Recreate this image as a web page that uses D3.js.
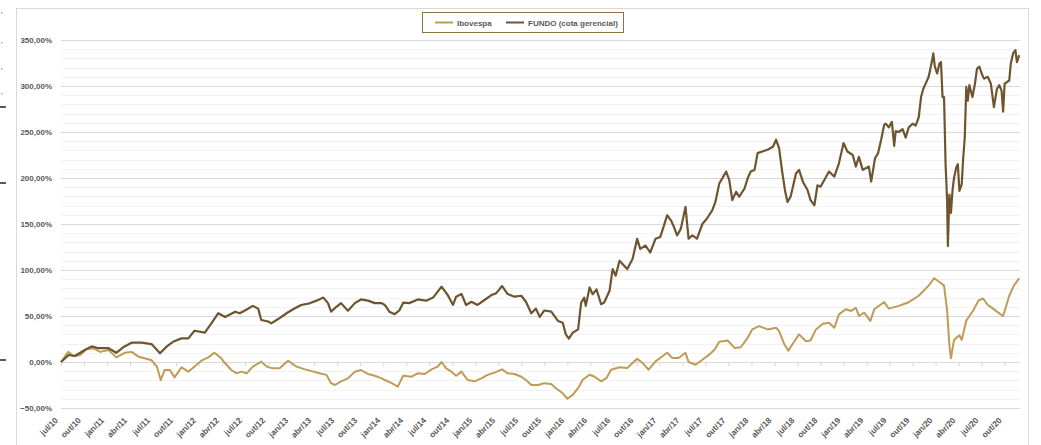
<!DOCTYPE html>
<html>
<head>
<meta charset="utf-8">
<script src="https://cdn.jsdelivr.net/npm/d3@7"></script>
<style>
body { margin: 0; background: #fff; }
</style>
</head>
<body>
<div id="caja"></div>
<script>
// meses desde jul/10 , rentabilidade acumulada (%)
var ibovespa = [
	[0,0],[0.95,11],[1.6,6.5],[2.5,7.6],[3.3,13.8],[4.2,15],[5.1,11],[6.2,13],[7.2,5],[8.3,10],
	[9.2,11],[10.1,5.8],[10.9,4],[11.8,2],[12.5,-5],[13,-19.6],[13.5,-8.7],[14.2,-8.7],[14.8,-16.7],[15.7,-5.8],
	[16.6,-10.5],[17.4,-5],[18.3,1.4],[19.2,5],[20,10],[20.9,4],[21.4,-1.4],[22.2,-8.7],[22.9,-12.3],[23.5,-10.5],
	[24.2,-12.3],[25,-5],[26.1,0.4],[26.8,-5],[27.6,-6.9],[28.5,-6.9],[29.6,1.4],[30.7,-5],[31.8,-8],[32.9,-10.5],
	[33.7,-12.3],[34.6,-14],[35.2,-23],[35.7,-25],[36.5,-21],[37.4,-17.8],[38.3,-10.5],[39.1,-8.7],[40,-13],[40.9,-15],
	[41.8,-17.8],[42.2,-19.6],[43,-22.5],[43.9,-26.8],[44.6,-15],[45.7,-16],[46.5,-12.3],[47.4,-13],[48.3,-8],[49.1,-5],
	[49.6,0],[50.2,-6.9],[50.9,-10.5],[51.5,-15],[52.2,-10.5],[53,-19.6],[53.9,-21],[54.8,-17.8],[55.6,-14],[56.5,-11.6],
	[57.5,-8],[58.2,-12.3],[59.1,-13],[60,-16],[60.6,-19.6],[61.3,-25],[62.2,-25],[63,-23],[63.9,-24],[64.5,-28.5],
	[65.4,-34],[66,-40],[66.7,-35.8],[67.4,-28.5],[68,-19.3],[68.9,-13.9],[69.5,-15.7],[70.4,-21],[71.1,-17.5],[71.7,-8.4],
	[72.8,-5.8],[73.8,-6.6],[75.1,3.6],[75.8,-1],[76.6,-8.4],[77.5,0.7],[78.4,6.2],[79,10],[79.7,4.4],[80.5,4.4],
	[81.4,10],[81.8,0],[82.7,-3],[83.6,2.5],[84.5,8],[85.2,13.5],[85.8,22],[86.9,23.4],[87.8,15.3],[88.6,16],
	[89.5,26.3],[90.1,35.4],[91,39],[92.1,35.4],[93.2,37.2],[93.6,33.6],[94.3,19],[94.8,12.4],[95.6,22.6],[96.2,30],
	[97.1,22.6],[97.7,23.4],[98.4,35.4],[99.3,41.6],[100.1,42.7],[100.8,37.2],[101.4,51.8],[102.3,57.3],[103,55.5],[103.6,59],
	[104,50],[104.7,53.6],[105.5,44.5],[106,57.3],[106.9,62.8],[107.3,65],[107.9,58],[109.2,61],[110.5,65],[111.8,72],
	[113.1,83],[113.8,91],[114.5,87],[115.1,83],[115.5,56],[115.8,18],[116,4],[116.4,24],[117.1,29],[117.4,24],
	[118,45],[118.9,56],[119.6,67],[120.2,69],[120.8,62],[121.5,58],[122.1,54],[122.8,50],[123.6,72],[124.2,83],
	[124.9,91]
];

var fundo = [
	[0,0],[1,7.6],[1.8,6.5],[3.1,13],[4,17],[4.9,15],[6.2,15],[7.2,10],[8.1,16],[9.2,21],
	[10.5,21],[11.8,19.5],[12.9,9.4],[13.8,17],[14.6,22],[15.7,25.7],[16.6,25.7],[17.4,34],[18.75,32],[19.6,42],
	[20.5,53],[21.4,49],[22.7,54.7],[23.3,53],[24.2,57],[25,61],[25.7,58],[26.1,45.7],[27,44],[27.4,42],
	[28.3,46.7],[29.4,53],[30.2,57],[31.3,62],[32.4,63.8],[33.3,66.7],[34.2,70],[34.8,64],[35.2,54.7],[35.9,60],
	[36.5,64],[37.4,55.8],[38.3,64],[39.1,68],[40,66.7],[40.9,64],[41.8,64],[42.2,62],[42.8,54.7],[43.5,52],
	[44.1,56],[44.6,64.5],[45.4,64],[46.5,68],[47.6,66.7],[48.5,70],[49.6,81.9],[50.4,72.8],[51.1,62],[51.5,71],
	[52.2,74],[52.8,62],[53.5,65.5],[54.3,62],[55.2,67.4],[56.1,72.8],[56.7,74.6],[57.5,82.6],[58.2,74],[59.1,71],
	[60,72],[60.6,65.5],[61.3,53],[61.9,58],[62.4,49],[63,56],[63.9,54.7],[64.8,44.5],[65.4,42.7],[65.8,30],
	[66.2,25.5],[66.7,31.8],[67.4,35.4],[67.8,64.6],[68.2,70],[68.4,61],[68.9,81],[69.3,73.7],[69.8,79],[70.4,62.8],
	[70.8,64.6],[71.5,77.4],[71.9,101],[72.3,93.8],[72.8,110],[73.4,104.7],[73.8,101],[74.5,112],[75.1,134],[75.5,123],
	[76.2,126.6],[76.8,119],[77.5,134],[78.1,135.8],[78.6,148.5],[79,159.5],[79.5,154],[79.9,146.7],[80.3,137.6],[80.8,145],
	[81.4,168.6],[81.8,134],[82.3,137.6],[82.9,134],[83.6,150],[84.2,156],[84.9,165],[85.3,174],[85.8,194],[86.2,199.6],
	[86.7,207],[87.1,198],[87.5,176],[88,185],[88.4,179.6],[89.1,188.7],[89.5,199.6],[89.9,207],[90.4,208.8],[90.8,227],
	[91.4,228.8],[92.1,230.7],[92.8,234],[93.2,241.6],[93.6,232.5],[94,207],[94.4,185],[94.7,174],[95.1,179.6],[95.8,205],
	[96.2,208.8],[96.7,196],[97.3,186.9],[97.7,176],[98.2,170.4],[98.6,192],[99,190.5],[99.5,197.8],[100.1,207],[100.8,201.5],
	[101.4,216],[102,238],[102.5,228.8],[103.2,225],[103.6,212.4],[104,223],[104.5,208.8],[104.9,210.6],[105.3,212.4],[105.6,196],
	[106.1,221.5],[106.5,227],[106.9,241.6],[107.3,258],[107.5,259],[107.9,255],[108.3,261],[108.6,235],[108.8,251],[109.2,250],
	[109.7,253],[110.1,244],[110.5,255],[111,259],[111.4,257],[111.8,266],[112.1,288],[112.4,297],[112.7,302.6],[113.1,310],
	[113.5,326],[113.7,335.4],[113.9,321],[114.2,313.6],[114.5,324.5],[114.7,326],[114.9,288],[115.1,288],[115.3,215],[115.5,175],
	[115.6,126],[115.8,182],[116,162],[116.2,186],[116.4,200],[116.7,211.6],[116.9,215],[117.1,186],[117.4,193],[117.6,222],
	[117.8,244],[118,299],[118.2,284],[118.4,301],[118.8,288],[119.1,301],[119.4,319],[119.7,321],[120,313.6],[120.3,308],
	[120.8,310],[121.2,302.6],[121.6,277],[122,297],[122.3,301],[122.6,295],[122.8,272],[123,302.6],[123.6,306],[123.8,324.5],
	[124.1,335.4],[124.4,339],[124.6,326],[124.9,333.6]
];

var rotulosX = ["jul/10","out/10","jan/11","abr/11","jul/11","out/11","jan/12","abr/12","jul/12","out/12",
	"jan/13","abr/13","jul/13","out/13","jan/14","abr/14","jul/14","out/14","jan/15","abr/15",
	"jul/15","out/15","jan/16","abr/16","jul/16","out/16","jan/17","abr/17","jul/17","out/17",
	"jan/18","abr/18","jul/18","out/18","jan/19","abr/19","jul/19","out/19","jan/20","abr/20",
	"jul/20","out/20"];
var ticksY = [-50, 0, 50, 100, 150, 200, 250, 300, 350];
var series = ["Ibovespa", "FUNDO (cota gerencial)"];
var cores = ["#bf9b57", "#6e5530"];

var w = 1041, h = 445;
var fonte = "'Liberation Sans', Arial, sans-serif";

var svg = d3.select('#caja')
	.append('svg')
	.attr('width', w)
	.attr('height', h)
	.style('background', '#fff');

var x = d3.scaleLinear().domain([0, 125]).range([61, 1020]);
var y = d3.scaleLinear().domain([-50, 350]).range([408, 40]);

// restos da janela ao lado (marcas a esquerda)
svg.append('g').selectAll('line')
	.data([107, 183, 360])
	.enter().append('line')
	.attr('x1', 0).attr('x2', 6)
	.attr('y1', function(d) { return d; }).attr('y2', function(d) { return d; })
	.attr('stroke', '#222').attr('stroke-width', 1.5);
svg.append('g').selectAll('rect')
	.data([12, 42, 68, 93])
	.enter().append('rect')
	.attr('x', 1).attr('y', function(d) { return d; })
	.attr('width', 1.5).attr('height', 1.5)
	.attr('fill', '#aaa');

// borda da area do grafico
svg.append('rect')
	.attr('x', 16.5).attr('y', 8.5)
	.attr('width', 1012).attr('height', 450)
	.attr('fill', 'none')
	.attr('stroke', '#d9d9d9');

// grade secundaria a cada 10%
svg.append('g')
	.selectAll('line')
	.data(d3.range(-40, 351, 10).filter(function(d) { return d % 50 != 0; }))
	.enter().append('line')
	.attr('x1', x(0)).attr('x2', x(125))
	.attr('y1', function(d) { return Math.round(y(d)) + 0.5; })
	.attr('y2', function(d) { return Math.round(y(d)) + 0.5; })
	.attr('stroke', '#f2f2f2');

// grade principal a cada 50%
svg.append('g')
	.selectAll('line')
	.data(ticksY)
	.enter().append('line')
	.attr('x1', x(0)).attr('x2', x(125))
	.attr('y1', function(d) { return Math.round(y(d)) + 0.5; })
	.attr('y2', function(d) { return Math.round(y(d)) + 0.5; })
	.attr('stroke', '#d9d9d9');

// eixo y
var eixoY = svg.append('g')
	.attr('transform', 'translate(' + (x(0) - 1) + ',0)')
	.call(d3.axisLeft(y)
		.tickValues(ticksY)
		.tickSize(0)
		.tickPadding(8)
		.tickFormat(function(d) { return d3.format('.2f')(d).replace('.', ',') + '%'; }));
eixoY.select('.domain').remove();
eixoY.selectAll('text')
	.attr('font-family', fonte)
	.attr('font-size', '8px')
	.attr('font-weight', 'bold')
	.attr('fill', '#595959');

// marcas no eixo zero
var eixoZero = svg.append('g')
	.attr('transform', 'translate(0,' + (Math.round(y(0)) + 0.5) + ')')
	.call(d3.axisBottom(x)
		.tickValues(d3.range(0, 124, 3))
		.tickSize(4)
		.tickFormat(''));
eixoZero.select('.domain').remove();
eixoZero.selectAll('line').attr('stroke', '#d9d9d9');

// rotulos do eixo x
var eixoX = svg.append('g')
	.attr('transform', 'translate(0,' + y(-50) + ')')
	.call(d3.axisBottom(x)
		.tickValues(d3.range(0, 124, 3))
		.tickSize(0)
		.tickFormat(function(d, i) { return rotulosX[i]; }));
eixoX.select('.domain').remove();
eixoX.selectAll('text')
	.attr('font-family', fonte)
	.attr('font-size', '8.3px')
	.attr('font-weight', 'bold')
	.attr('fill', '#595959')
	.attr('text-anchor', 'end')
	.attr('dy', 0)
	.attr('y', 0)
	.attr('transform', 'translate(-3,13) rotate(-45)');

// linhas
var linha = d3.line()
	.x(function(d) { return x(d[0]); })
	.y(function(d) { return y(d[1]); });

svg.append('path')
	.datum(ibovespa)
	.attr('d', linha)
	.attr('fill', 'none')
	.attr('stroke', cores[0])
	.attr('stroke-width', 2)
	.attr('stroke-linejoin', 'round');

svg.append('path')
	.datum(fundo)
	.attr('d', linha)
	.attr('fill', 'none')
	.attr('stroke', cores[1])
	.attr('stroke-width', 2.2)
	.attr('stroke-linejoin', 'round');

// legenda
var leg = svg.append('g');
leg.append('rect')
	.attr('x', 422.5).attr('y', 12.5)
	.attr('width', 201).attr('height', 20)
	.attr('fill', '#fff')
	.attr('stroke', '#8a7444');
var legX = [435, 506];
series.forEach(function(s, i) {
	leg.append('line')
		.attr('x1', legX[i]).attr('x2', legX[i] + 18)
		.attr('y1', 22.5).attr('y2', 22.5)
		.attr('stroke', cores[i]).attr('stroke-width', 2);
	leg.append('text')
		.text(s)
		.attr('x', legX[i] + 22)
		.attr('y', 25.5)
		.attr('font-family', fonte)
		.attr('font-size', '8px')
		.attr('font-weight', 'bold')
		.attr('fill', '#595959');
});
</script>
</body>
</html>
